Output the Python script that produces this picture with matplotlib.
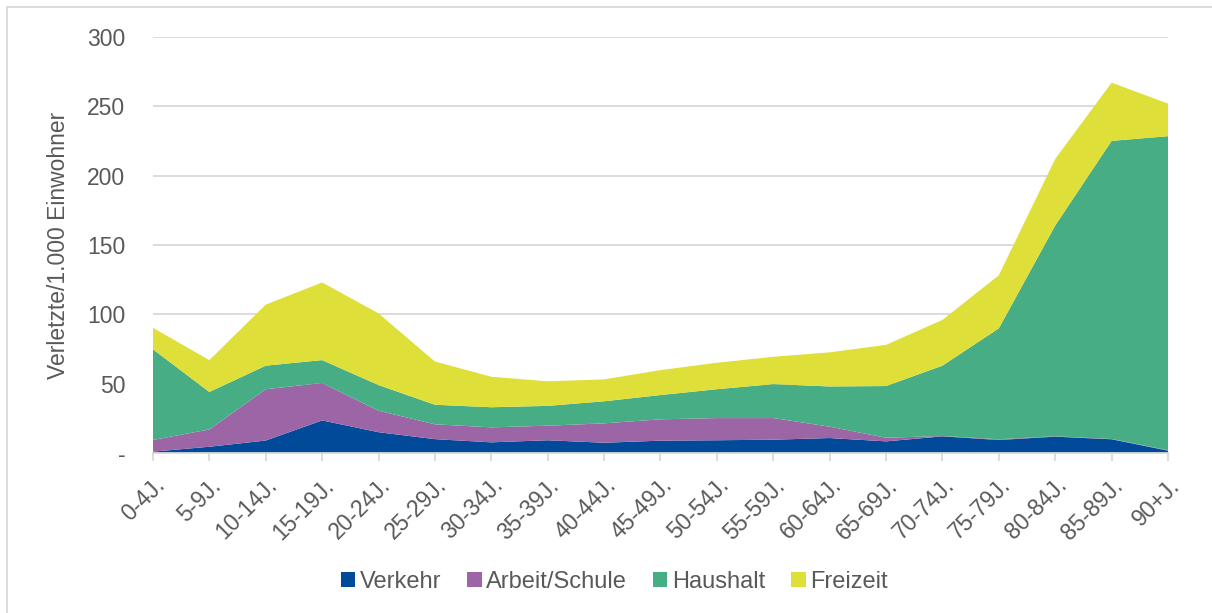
import matplotlib.pyplot as plt
import matplotlib.transforms as mtransforms
from matplotlib.patches import Rectangle

# Verletzte je 1.000 Einwohner nach Altersgruppe und Unfallbereich
alter = ["0-4J.", "5-9J.", "10-14J.", "15-19J.", "20-24J.", "25-29J.", "30-34J.",
         "35-39J.", "40-44J.", "45-49J.", "50-54J.", "55-59J.", "60-64J.", "65-69J.",
         "70-74J.", "75-79J.", "80-84J.", "85-89J.", "90+J."]

verkehr = [1, 4.5, 9, 23.5, 15, 10, 7.7, 9.2, 7.4, 8.9, 9.2, 9.6, 10.8, 8.4, 12, 9.4, 11.8, 9.9, 1.7]
arbeit = [8.4, 12.5, 37, 27, 15.5, 10.7, 10.8, 10.5, 14, 15.4, 16, 15.6, 8.2, 2.6, 0.3, 0.5, 0.3, 0.2, 0.3]
haushalt = [65.4, 27, 17, 16.5, 18.5, 14.1, 14.5, 14.3, 15.9, 17.5, 20.8, 24.5, 29, 37.3, 50.7, 80, 152, 215, 226.5]
freizeit = [15.5, 23, 44, 56, 51.7, 31.2, 22, 17.7, 15.8, 18, 19.1, 19.7, 24.6, 29.7, 33, 38.3, 48, 42, 23.5]

namen = ["Verkehr", "Arbeit/Schule", "Haushalt", "Freizeit"]
farben = ["#004A99", "#9C65A6", "#47AD85", "#DFDF3A"]
grau = "#595959"

plt.rcParams['font.family'] = ['Liberation Sans', 'DejaVu Sans']

fig = plt.figure(figsize=(12.12, 6.13), dpi=100)
ax = fig.add_axes([0.1262, 0.261, 0.8375, 0.6786])

x = list(range(len(alter)))
ax.stackplot(x, verkehr, arbeit, haushalt, freizeit, colors=farben, labels=namen,
             linewidth=0, zorder=3)

ax.set_xlim(0, len(alter) - 1)
ax.set_ylim(0, 300)
ax.set_yticks([0, 50, 100, 150, 200, 250, 300])
ax.set_yticklabels(["-", "50", "100", "150", "200", "250", "300"])
ax.set_xticks(x)
ax.set_xticklabels(alter, rotation=45, ha="right", rotation_mode="anchor")

# Beschriftung etwas nach rechts schieben (wie im Original)
verschiebung = mtransforms.ScaledTranslation(5 / 100, 0, fig.dpi_scale_trans)
for lab in ax.get_xticklabels():
    lab.set_transform(lab.get_transform() + verschiebung)

ax.grid(axis="y", color="#D9D9D9", linewidth=1.3, zorder=0)
for s in ["top", "right", "left"]:
    ax.spines[s].set_visible(False)
ax.spines["bottom"].set_color("#D9D9D9")
ax.spines["bottom"].set_linewidth(1.3)
ax.spines["bottom"].set_zorder(4)

ax.tick_params(axis="y", length=0, pad=20, labelsize=16.5, labelcolor=grau)
ax.tick_params(axis="x", length=6, width=1.3, color="#D9D9D9", pad=9,
               labelsize=16.5, labelcolor=grau)

ax.set_ylabel("Verletzte/1.000 Einwohner", fontsize=16.5, color=grau, labelpad=12)

ax.legend(loc="center", bbox_to_anchor=(0.4547, -0.31), ncol=4, frameon=False,
          fontsize=17, labelcolor=grau, handlelength=0.6, handleheight=0.6,
          handletextpad=0.2, columnspacing=1.1)

fig.patches.append(Rectangle((7 / 1212, -0.1), 1.2, 1 - 7 / 613 + 0.1,
                             transform=fig.transFigure, fill=False,
                             edgecolor="#D9D9D9", linewidth=1.3))

fig.savefig("out.png", dpi=100)
